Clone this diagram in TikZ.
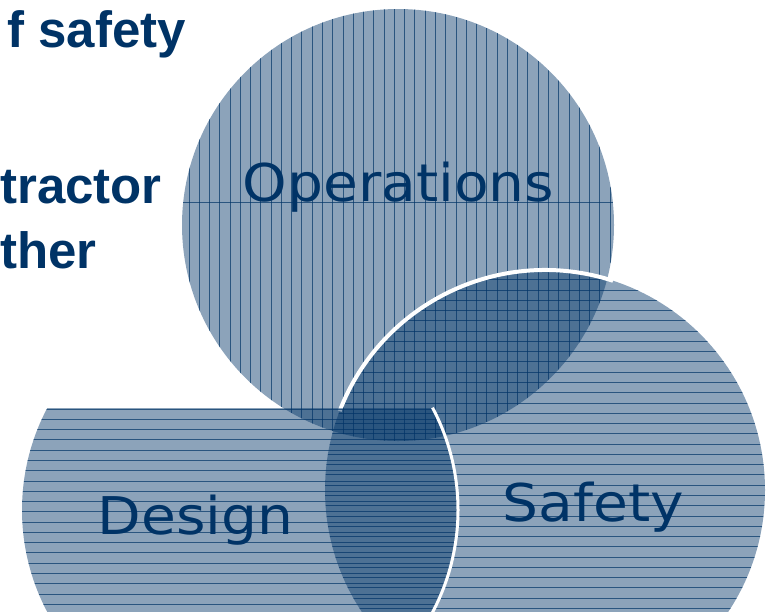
\documentclass[tikz,border=0pt]{standalone}
\usepackage{fontspec}
\newfontfamily\vennfont[FakeStretch=1.09]{DejaVu Sans}
\newfontfamily\sidefont{Liberation Sans}
\definecolor{navy}{RGB}{0,51,102}
\tikzset{
  blob/.style={fill=navy,fill opacity=0.45},
  hatch/.style={draw=navy,draw opacity=0.7,line width=0.8pt},
  rim/.style={draw=white,line width=3.5pt},
  venntext/.style={text=navy,inner sep=0pt,anchor=base,font=\vennfont\fontsize{52}{56}\selectfont},
  sidetext/.style={text=navy,inner sep=0pt,anchor=base east,font=\sidefont\bfseries\fontsize{51}{56}\selectfont}
}
\begin{document}
\begin{tikzpicture}[x=1pt,y=-1pt]
      \useasboundingbox (0,0) rectangle (767,611);
      \clip (0,0) rectangle (767,611);
      \coordinate (ops) at (398,225); \coordinate (saf) at (545,490); \coordinate (des) at (240,510);

      % operations
      \fill[blob] (ops) circle[radius=216];
      \begin{scope}
        \clip (ops) circle[radius=216];
        \foreach \i in {0,...,43} \draw[hatch] ({178.65+10.27*\i},0) -- ++(0,450);
        \draw[hatch] (170,202) -- (630,202);
      \end{scope}

      % safety
      \fill[blob] (saf) circle[radius=220];
      \begin{scope}
        \clip (saf) circle[radius=220];
        \foreach \i in {-1,...,32} \draw[hatch] (320,{290+10.27*\i}) -- ++(460,0);
      \end{scope}
      \draw[rim,line width=4pt] ([shift={(-159:220)}]saf) arc[start angle=-159,end angle=-72,radius=220];

      % design
      \begin{scope}
        \clip (0,408) rectangle (767,611);
        \fill[blob] (des) circle[radius=218];
        \clip (des) circle[radius=218];
        \foreach \i in {-1,...,19} \draw[hatch] (0,{419.3+10.27*\i}) -- ++(470,0);
      \end{scope}
      \draw[rim,line width=3pt] ([shift={(-28:218)}]des) arc[start angle=-28,end angle=28,radius=218];

      \node[venntext] (opstxt) at (398.5,201) {Operations};
      \node[venntext] (saftxt) at (593.5,521) {Safety};
      \node[venntext] (destxt) at (195.5,534) {Design};

      \node[sidetext] (line1) at (186,47) {f safety};
      \node[sidetext,anchor=base west] (line2) at (0,203) {tractor};
      \node[sidetext] (line3) at (97,268) {ther};
    \end{tikzpicture}
\end{document}
